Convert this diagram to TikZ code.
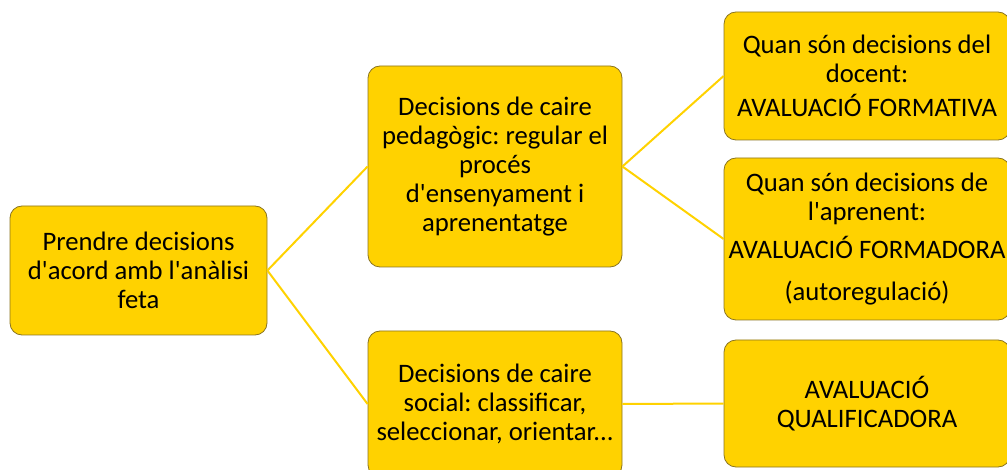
\documentclass[tikz,border=0pt]{standalone}
\usepackage{fontspec}
\setmainfont{Carlito}[Ligatures=TeXOff]
\usepackage{tikz}
\usetikzlibrary{arrows.meta}
\definecolor{boxyellow}{HTML}{FFD200}
\definecolor{boxline}{HTML}{8A7420}
\frenchspacing

\begin{document}
\begin{tikzpicture}[x=0.75pt,y=-0.75pt]
		\clip (0,0) rectangle (1007,470);
		\begin{scope}
            [
                every node/.style={fill=boxyellow, draw=boxline, line width=0.6pt,
                    rounded corners=9pt, align=center, inner sep=0pt,
                    font=\fontsize{20}{21.75}\selectfont}
            ]
            
			\node(root)[minimum width=192.75pt, minimum height=96.75pt] at (138.5,270.5) {Prendre decisions\\d'acord amb l'anàlisi\\feta};
			
			\node(ped)[minimum width=190.5pt, minimum height=150.75pt] at (495,166.5) {Decisions de caire\\pedagògic: regular el\\procés\\d'ensenyament i\\aprenentatge};
			\node(soc)[minimum width=190.5pt, minimum height=109.5pt] at (495,404) {Decisions de caire\\social: classificar,\\seleccionar, orientar...};
			\node(form)[minimum width=214.5pt, minimum height=96pt] at (867,76) {Quan són decisions del\\docent:\\[4pt]AVALUACIÓ FORMATIVA};
			\node(fmdr)[minimum width=214.5pt, minimum height=121.5pt] at (867,239) {Quan són decisions de\\l'aprenent:\\[7pt]AVALUACIÓ FORMADORA\\[10pt](autoregulació)};
			\node(qual)[minimum width=214.5pt, minimum height=95.25pt] at (867,403.5) {AVALUACIÓ\\QUALIFICADORA};

		\end{scope}
		\begin{scope}
            [
                every edge/.style={draw=boxyellow, line width=1.5pt},
            ]
            \path 
            (root.east) edge (ped.west)
			(root.east) edge (soc.west)
			(ped.east) edge (form.west)
			(ped.east) edge (fmdr.west)
			(soc.east) edge (qual.west);
		\end{scope}
    \end{tikzpicture}
\end{document}
